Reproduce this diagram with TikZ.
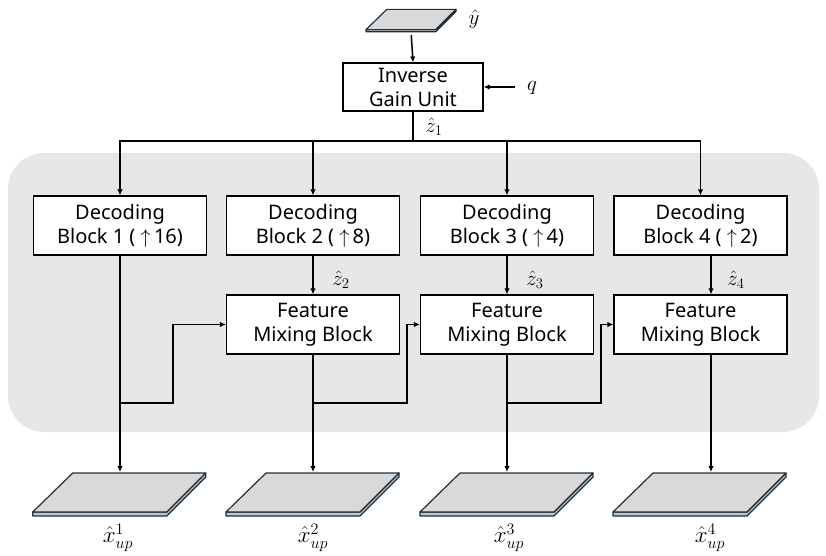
\RequirePackage{fix-cm}
\documentclass[tikz,border=0pt]{standalone}
\usepackage[no-math]{fontspec}
\setmainfont{Noto Sans}
\usetikzlibrary{arrows.meta}
\definecolor{slabfill}{RGB}{217,217,217}
\definecolor{slabrim}{RGB}{188,198,204}
\definecolor{slabedge}{RGB}{30,48,60}
\definecolor{panelgray}{RGB}{231,231,231}
\tikzset{
  blk/.style={draw=black,fill=white,line width=1.2pt,minimum width=173pt,minimum height=59pt,align=center,inner sep=1pt,font=\fontsize{20}{24}\selectfont},
  sig/.style={font=\fontsize{21}{23}\selectfont,inner sep=1pt},
  outlab/.style={font=\fontsize{23}{25}\selectfont,inner sep=1pt},
  wire/.style={line width=1.5pt},
  flow/.style={wire,-{Latex[length=6pt,width=5.5pt]}},
  slab/.pic={
    \fill[slabrim,draw=slabedge,line width=1.2pt,line join=round] (-87,19.5) -- (47,19.5) -- (86,-19.5) -- (86,-15.5) -- (47,23.5) -- (-87,23.5) -- cycle;
    \filldraw[fill=slabfill,draw=slabedge,line width=1.2pt,line join=round] (-47,-19.5) -- (86,-19.5) -- (47,19.5) -- (-87,19.5) -- cycle;
    \coordinate (-bot) at (0,30);
  }
}
\begin{document}
\begin{tikzpicture}[x=1pt,y=-1pt,line cap=butt]
\useasboundingbox (0,0) rectangle (826,555);
\fill[panelgray,rounded corners=36pt] (8,153) rectangle (819,432);
% input latent and gain unit
\pic[scale=0.52] (yhat) at (411.25,19.5) {slab};
\node[sig] (ylab) at (474,19) {$\hat{y}$};
\node[blk,minimum width=140pt,minimum height=48pt] (igu) at (413,87) {Inverse\\Gain Unit};
\node[sig,anchor=west] (q) at (526,88) {$q$};
\coordinate (qin) at (515,87);
\coordinate (bus) at (413,141);
\draw[flow] (yhat-bot) -- (igu.north);
\draw[flow] (qin) -- (igu.east |- qin);
\draw[wire] (igu.south) -- (bus);
\node[sig] (z1) at (434,127) {$\hat{z}_1$};
% decoding blocks
\node[blk] (dec1) at (120,225.5) {Decoding\\Block 1 ( $\uparrow$\,16)};
\node[blk] (dec2) at (313,225.5) {Decoding\\Block 2 ( $\uparrow$\,8)};
\node[blk] (dec3) at (507,225.5) {Decoding\\Block 3 ( $\uparrow$\,4)};
\node[blk] (dec4) at (700.5,225.5) {Decoding\\Block 4 ( $\uparrow$\,2)};
\draw[flow] (bus) -| (dec1.north);
\draw[flow] (bus) -| (dec2.north);
\draw[flow] (bus) -| (dec3.north);
\draw[flow] (bus) -| (dec4.north);
% feature mixing blocks
\node[blk] (fm2) at (313,324.5) {Feature\\Mixing Block};
\node[blk] (fm3) at (507,324.5) {Feature\\Mixing Block};
\node[blk] (fm4) at (700.5,324.5) {Feature\\Mixing Block};
\draw[flow] (dec2) -- (fm2);
\draw[flow] (dec3) -- (fm3);
\draw[flow] ([xshift=10.5pt]dec4.south) -- ([xshift=10.5pt]fm4.north);
\node[sig] (z2) at (341,280) {$\hat{z}_2$};
\node[sig] (z3) at (535,280) {$\hat{z}_3$};
\node[sig] (z4) at (736,280) {$\hat{z}_4$};
% outputs
\pic (xup1) at (119.75,492.5) {slab};
\pic (xup2) at (313,492.5) {slab};
\pic (xup3) at (507,492.5) {slab};
\pic (xup4) at (700,492.5) {slab};
\coordinate (xin1) at (120,472);
\coordinate (xin2) at (313,472);
\coordinate (xin3) at (507,472);
\coordinate (xin4) at (711,472);
\draw[flow] (dec1) -- (xin1);
\draw[flow] (fm2) -- (xin2);
\draw[flow] (fm3) -- (xin3);
\draw[flow] ([xshift=10.5pt]fm4.south) -- (xin4);
\node[outlab] (x1) at (118,538) {$\hat{x}_{up}^{1}$};
\node[outlab] (x2) at (313,538) {$\hat{x}_{up}^{2}$};
\node[outlab] (x3) at (509,538) {$\hat{x}_{up}^{3}$};
\node[outlab] (x4) at (710,538) {$\hat{x}_{up}^{4}$};
% skip paths into the mixing blocks
\coordinate (j1) at (120,403);
\coordinate (k1) at (173,403);
\coordinate (j2) at (313,403);
\coordinate (k2) at (407,403);
\coordinate (j3) at (507,403);
\coordinate (k3) at (601,403);
\draw[flow] (j1) -- (k1) |- (fm2.west);
\draw[flow] (j2) -- (k2) |- (fm3.west);
\draw[flow] (j3) -- (k3) |- (fm4.west);
\end{tikzpicture}
\end{document}
